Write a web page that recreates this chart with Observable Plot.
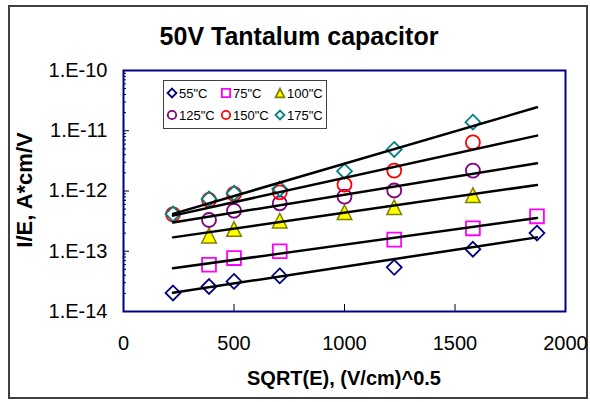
<!DOCTYPE html>
<html>
<head>
<meta charset="utf-8">
<script src="https://cdn.jsdelivr.net/npm/d3@7"></script>
<script src="https://cdn.jsdelivr.net/npm/@observablehq/plot@0.6"></script>
<style>
  html, body { margin: 0; padding: 0; background: #fff; }
  #wrap { position: relative; width: 590px; height: 402px; overflow: hidden; font-family: Arial, "Liberation Sans", sans-serif; }
  #border { position: absolute; left: 8px; top: 5px; width: 576px; height: 390px; border: 2px solid #404040; }
  #chart { position: absolute; left: 0; top: 0; }
  .lbl { position: absolute; font-weight: bold; color: #000; white-space: nowrap; }
  #title { left: 0; width: 598px; top: 22px; text-align: center; font-size: 25px; }
  #xlabel { left: 123px; width: 442px; top: 367px; text-align: center; font-size: 20px; }
  #ylabel { left: 25px; top: 190px; font-size: 22px; transform: translate(-50%, -50%) rotate(-90deg); }
  #legend { position: absolute; left: 163px; top: 80px; }
</style>
</head>
<body>
<div id="wrap">
  <div id="border"></div>
  <div id="chart"></div>
  <div id="title" class="lbl">50V Tantalum capacitor</div>
  <div id="xlabel" class="lbl">SQRT(E), (V/cm)^0.5</div>
  <div id="ylabel" class="lbl">I/E, A*cm/V</div>
  <div id="legend"></div>
</div>
<script>
// ---- data ----
const sqrtE = [224, 387, 500, 707, 1000, 1225, 1581, 1871];
const seriesNames = ['55"C', '75"C', '100"C', '125"C', '150"C', '175"C'];
const v55  = [2.03e-14, 2.6e-14, 3.16e-14, 3.9e-14, null, 5.4e-14, 1.08e-13, 2.0e-13];
const v75  = [null, 5.98e-14, 7.7e-14, 1.0e-13, null, 1.56e-13, 2.4e-13, 3.8e-13];
const v100 = [null, 1.82e-13, 2.34e-13, 3.22e-13, 4.43e-13, 5.36e-13, 8.5e-13, null];
const v125 = [null, 3.3e-13, 4.7e-13, 6.25e-13, 8.07e-13, 1.02e-12, 2.18e-12, null];
const v150 = [4.1e-13, 7.1e-13, 8.95e-13, 9.5e-13, 1.28e-12, 2.18e-12, 6.4e-12, null];
const v175 = [4.17e-13, 7.4e-13, 9.2e-13, 1.08e-12, 2.13e-12, 4.9e-12, 1.39e-11, null];
// exponential trend lines: value at first and last sqrt(E)
const trendX = [224, 1871];
const trendStart = [2.05e-14, 5.2e-14, 1.70e-13, 2.99e-13, 3.9e-13, 4.17e-13];
const trendEnd   = [1.70e-13, 3.57e-13, 1.26e-12, 2.88e-12, 8.3e-12, 2.45e-11];
const xTicks = [0, 500, 1000, 1500, 2000];
const yTicks = [1e-14, 1e-13, 1e-12, 1e-11, 1e-10];

// ---- styles ----
const triSym = { draw(ctx, size) { const r = Math.sqrt(size / Math.PI); ctx.moveTo(0, -r); ctx.lineTo(r, r); ctx.lineTo(-r, r); ctx.closePath(); } };
const styles = [
  { symbol: "diamond2", r: 6.7, stroke: "#000080", fill: "none", sw: 1.8 },
  { symbol: "square2", r: 8.8, stroke: "#FF00FF", fill: "none", sw: 1.8 },
  { symbol: triSym, r: 7.3, stroke: "#808000", fill: "#FFFF00", sw: 1.5 },
  { symbol: "circle", r: 7, stroke: "#800080", fill: "none", sw: 1.8 },
  { symbol: "circle", r: 7, stroke: "#FF0000", fill: "none", sw: 1.8 },
  { symbol: "diamond2", r: 6.7, stroke: "#008080", fill: "none", sw: 1.8 }
];
const allValues = [v55, v75, v100, v125, v150, v175];

const minorTicks = [];
for (let e = -14; e < -10; e++) for (let m = 2; m <= 9; m++) minorTicks.push(m * Math.pow(10, e));

const marks = [];
allValues.forEach((vals, i) => {
  const data = sqrtE.map((x, j) => ({ x, y: vals[j] })).filter(d => d.y != null);
  const s = styles[i];
  marks.push(Plot.dot(data, { x: "x", y: "y", symbol: () => s.symbol, r: s.r, stroke: s.stroke, fill: s.fill, strokeWidth: s.sw }));
});
allValues.forEach((vals, i) => {
  const line = [{ x: trendX[0], y: trendStart[i] }, { x: trendX[1], y: trendEnd[i] }];
  marks.push(Plot.line(line, { x: "x", y: "y", stroke: "#000", strokeWidth: 2.5 }));
});

const chart = Plot.plot({
  width: 590, height: 402,
  marginLeft: 123, marginRight: 25, marginTop: 70, marginBottom: 91,
  style: { fontFamily: "Arial, 'Liberation Sans', sans-serif", background: "transparent", color: "#000" },
  x: { domain: [0, 2000] },
  y: { type: "log", domain: [1e-14, 1e-10] },
  symbol: { type: "identity" },
  marks: [
    ...marks,
    Plot.axisY(minorTicks, { tickSize: -3, tickFormat: () => "", stroke: "#000", label: null }),
    Plot.axisY(yTicks, { tickSize: -6, tickPadding: 22, tickFormat: d => "1.E" + Math.round(Math.log10(d)), fontSize: 20, stroke: "#000", label: null }),
    Plot.axisX(xTicks.slice(1, -1), { tickSize: -7, tickFormat: () => "", stroke: "#000", label: null }),
    Plot.axisX(xTicks, { tickSize: 0, tickPadding: 24, tickFormat: d => String(d), fontSize: 20, label: null }),
    Plot.frame({ stroke: "#000080", strokeWidth: 2 })
  ]
});
document.getElementById("chart").appendChild(chart);

// ---- legend ----
const ns = "http://www.w3.org/2000/svg";
const lw = 164, lh = 49;
const lsvg = document.createElementNS(ns, "svg");
lsvg.setAttribute("width", lw); lsvg.setAttribute("height", lh);
lsvg.style.overflow = "visible";
const box = document.createElementNS(ns, "rect");
box.setAttribute("x", 0.5); box.setAttribute("y", 0.5); box.setAttribute("width", lw - 1); box.setAttribute("height", lh - 1);
box.setAttribute("fill", "#fff"); box.setAttribute("stroke", "#404040"); box.setAttribute("stroke-width", 1);
lsvg.appendChild(box);
const symMap = { circle: d3.symbolCircle, diamond2: d3.symbolDiamond2, square2: d3.symbolSquare2 };
const colX = [9, 63, 117], rowY = [13, 35];
seriesNames.forEach((name, i) => {
  const s = styles[i];
  const cx = colX[i % 3], cy = rowY[Math.floor(i / 3)];
  const type = typeof s.symbol === "string" ? symMap[s.symbol] : s.symbol;
  const rr = s.r * 0.6;
  const p = document.createElementNS(ns, "path");
  p.setAttribute("d", d3.symbol(type, rr * rr * Math.PI)());
  p.setAttribute("transform", `translate(${cx},${cy})`);
  p.setAttribute("fill", s.fill); p.setAttribute("stroke", s.stroke); p.setAttribute("stroke-width", 1.8);
  lsvg.appendChild(p);
  const t = document.createElementNS(ns, "text");
  t.setAttribute("x", cx + 7); t.setAttribute("y", cy + 4.5);
  t.setAttribute("font-size", 13); t.setAttribute("font-family", "Arial, 'Liberation Sans', sans-serif");
  t.textContent = name;
  lsvg.appendChild(t);
});
document.getElementById("legend").appendChild(lsvg);
</script>
</body>
</html>
